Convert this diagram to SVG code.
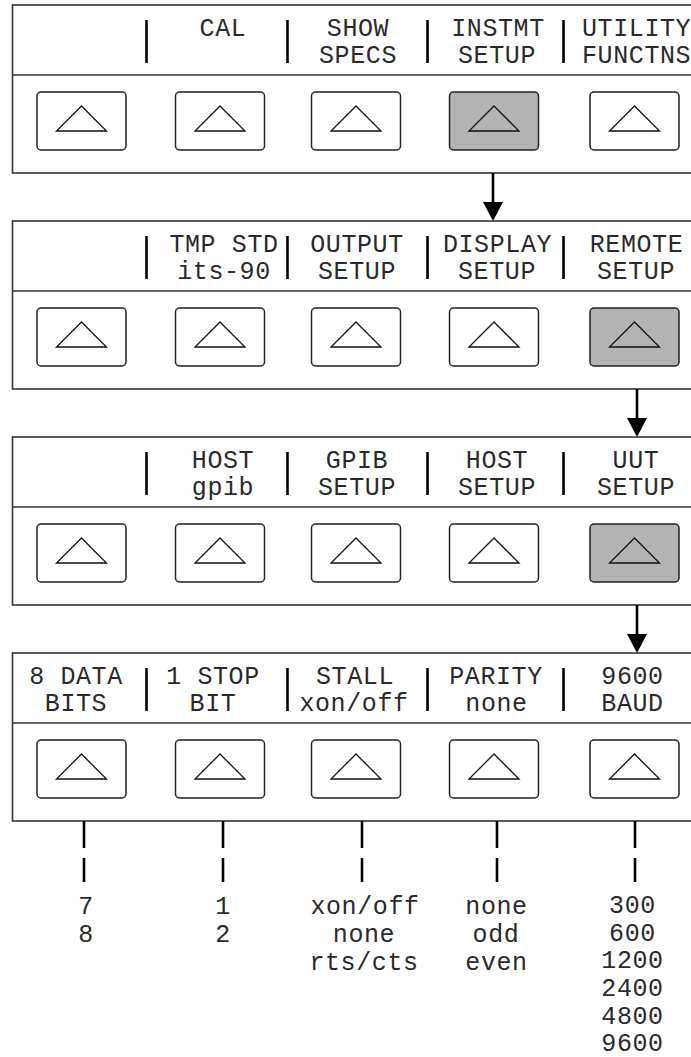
<svg xmlns="http://www.w3.org/2000/svg" width="691" height="1057" viewBox="0 0 691 1057">
<style>
.panel{fill:#fff;stroke:#333;stroke-width:1.6}
.div{stroke:#333;stroke-width:1.6}
.bar{stroke:#000;stroke-width:2.6}
.btn{fill:#fff;stroke:#222;stroke-width:1.5}
.btn.on{fill:#b3b3b3}
.tri{fill:none;stroke:#111;stroke-width:1.3;stroke-linejoin:miter}
.t{font-family:"Liberation Mono","DejaVu Sans Mono",monospace;font-size:25px;letter-spacing:0.6px;fill:#2a2a2a;text-anchor:middle}
.ts{font-family:"Liberation Mono","DejaVu Sans Mono",monospace;font-size:25px;letter-spacing:0.6px;fill:#2a2a2a;text-anchor:start}
.conn{stroke:#000;stroke-width:2.6;fill:none}
.head{fill:#000}
</style>
<defs>
<g id="btn"><rect class="btn" x="-44.5" y="0" width="89" height="58" rx="4"/><polygon class="tri" points="0,14 25,39 -25,39"/></g>
<g id="btnOn"><rect class="btn on" x="-44.5" y="0" width="89" height="58" rx="4"/><polygon class="tri" points="0,14 25,39 -25,39"/></g>
<g id="bars"><line class="bar" x1="146.5" y1="15" x2="146.5" y2="58"/><line class="bar" x1="287.5" y1="15" x2="287.5" y2="58"/><line class="bar" x1="427.5" y1="15" x2="427.5" y2="58"/><line class="bar" x1="563.5" y1="15" x2="563.5" y2="58"/></g>
</defs>

<g id="panel1" transform="translate(0,5)">
<rect class="panel" x="12.5" y="0" width="700" height="168"/>
<line class="div" x1="12.5" y1="70" x2="700" y2="70"/>
<use href="#bars"/>
<text class="t" x="223" y="31">CAL</text>
<text class="t" x="358" y="31">SHOW</text><text class="t" x="358" y="58">SPECS</text>
<text class="t" x="498" y="31">INSTMT</text><text class="t" x="497" y="58">SETUP</text>
<text class="ts" x="582" y="31">UTILITY</text><text class="ts" x="582" y="58">FUNCTNS</text>
<use href="#btn" x="81.5" y="87"/><use href="#btn" x="220" y="87"/><use href="#btn" x="356" y="87"/><use href="#btnOn" x="494" y="87"/><use href="#btn" x="634.5" y="87"/>
</g>

<g id="panel2" transform="translate(0,221)">
<rect class="panel" x="12.5" y="0" width="700" height="168"/>
<line class="div" x1="12.5" y1="70" x2="700" y2="70"/>
<use href="#bars"/>
<text class="t" x="224" y="31">TMP STD</text><text class="t" x="224" y="58">its-90</text>
<text class="t" x="357" y="31">OUTPUT</text><text class="t" x="357" y="58">SETUP</text>
<text class="t" x="497.5" y="31">DISPLAY</text><text class="t" x="497" y="58">SETUP</text>
<text class="t" x="636.5" y="31">REMOTE</text><text class="t" x="636" y="58">SETUP</text>
<use href="#btn" x="81.5" y="87"/><use href="#btn" x="220" y="87"/><use href="#btn" x="356" y="87"/><use href="#btn" x="494" y="87"/><use href="#btnOn" x="634.5" y="87"/>
</g>

<g id="panel3" transform="translate(0,437)">
<rect class="panel" x="12.5" y="0" width="700" height="168"/>
<line class="div" x1="12.5" y1="70" x2="700" y2="70"/>
<use href="#bars"/>
<text class="t" x="223" y="31">HOST</text><text class="t" x="223" y="58">gpib</text>
<text class="t" x="357" y="31">GPIB</text><text class="t" x="357" y="58">SETUP</text>
<text class="t" x="497" y="31">HOST</text><text class="t" x="497" y="58">SETUP</text>
<text class="t" x="636" y="31">UUT</text><text class="t" x="636" y="58">SETUP</text>
<use href="#btn" x="81.5" y="87"/><use href="#btn" x="220" y="87"/><use href="#btn" x="356" y="87"/><use href="#btn" x="494" y="87"/><use href="#btnOn" x="634.5" y="87"/>
</g>

<g id="panel4" transform="translate(0,653)">
<rect class="panel" x="12.5" y="0" width="700" height="168"/>
<line class="div" x1="12.5" y1="70" x2="700" y2="70"/>
<use href="#bars"/>
<text class="t" x="76" y="31">8 DATA</text><text class="t" x="76" y="58">BITS</text>
<text class="t" x="213" y="31">1 STOP</text><text class="t" x="213" y="58">BIT</text>
<text class="t" x="355" y="31">STALL</text><text class="t" x="354" y="58">xon/off</text>
<text class="t" x="496" y="31">PARITY</text><text class="t" x="496.5" y="58">none</text>
<text class="t" x="632.5" y="31">9600</text><text class="t" x="632.5" y="58">BAUD</text>
<use href="#btn" x="81.5" y="87"/><use href="#btn" x="220" y="87"/><use href="#btn" x="356" y="87"/><use href="#btn" x="494" y="87"/><use href="#btn" x="634.5" y="87"/>
</g>

<g id="connectors">
<line class="conn" x1="493" y1="173" x2="493" y2="204"/>
<polygon class="head" points="483,202 503,202 493,221"/>
<line class="conn" x1="637" y1="389" x2="637" y2="420"/>
<polygon class="head" points="627,418 647,418 637,437"/>
<line class="conn" x1="637" y1="605" x2="637" y2="636"/>
<polygon class="head" points="627,634 647,634 637,653"/>
<g class="conn">
<line x1="84" y1="821" x2="84" y2="848"/><line x1="84" y1="858" x2="84" y2="882"/>
<line x1="223" y1="821" x2="223" y2="848"/><line x1="223" y1="858" x2="223" y2="882"/>
<line x1="362" y1="821" x2="362" y2="848"/><line x1="362" y1="858" x2="362" y2="882"/>
<line x1="497" y1="821" x2="497" y2="848"/><line x1="497" y1="858" x2="497" y2="882"/>
<line x1="635" y1="821" x2="635" y2="848"/><line x1="635" y1="858" x2="635" y2="882"/>
</g>
</g>

<g id="values">
<text class="t" x="86" y="914">7</text><text class="t" x="86" y="942">8</text>
<text class="t" x="223" y="914">1</text><text class="t" x="223" y="942">2</text>
<text class="t" x="365" y="914">xon/off</text><text class="t" x="364" y="942">none</text><text class="t" x="364" y="970">rts/cts</text>
<text class="t" x="496.5" y="914">none</text><text class="t" x="496" y="942">odd</text><text class="t" x="496.5" y="970">even</text>
<text class="t" x="632.5" y="913">300</text><text class="t" x="632.5" y="941">600</text><text class="t" x="632.5" y="968">1200</text><text class="t" x="632.5" y="996">2400</text><text class="t" x="632.5" y="1024">4800</text><text class="t" x="632.5" y="1051">9600</text>
</g>
</svg>
